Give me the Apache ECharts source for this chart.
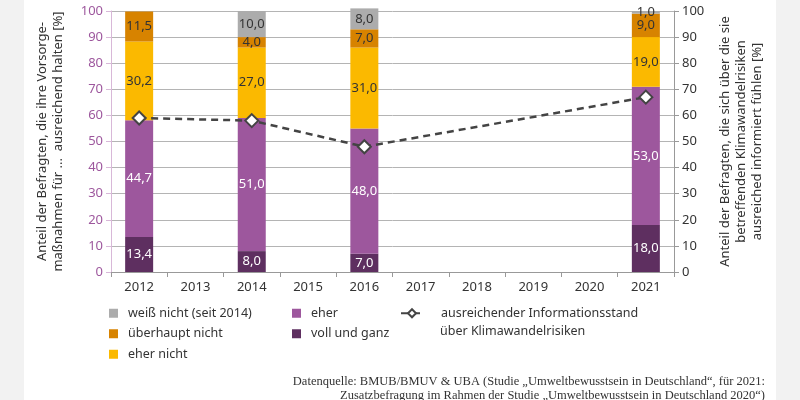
<!DOCTYPE html>
<html>
<head>
<meta charset="utf-8">
<script src="https://cdn.jsdelivr.net/npm/echarts@6/dist/echarts.min.js"></script>
<style>html,body{margin:0;padding:0;background:#fff}#c{width:800px;height:400px}</style>
</head>
<body>
<div id="c"></div>
<script>
const years = ['2012','2013','2014','2015','2016','2017','2018','2019','2020','2021'];
const vollUndGanz     = [13.4, null, 8.0, null, 7.0, null, null, null, null, 18.0];
const eher            = [44.7, null, 51.0, null, 48.0, null, null, null, null, 53.0];
const eherNicht       = [30.2, null, 27.0, null, 31.0, null, null, null, null, 19.0];
const ueberhauptNicht = [11.5, null, 4.0, null, 7.0, null, null, null, null, 9.0];
const weissNicht      = [null, null, 10.0, null, 8.0, null, null, null, null, 1.0];
const informiert      = [59, null, 58, null, 48, null, null, null, null, 67];
const yTicks = [0, 10, 20, 30, 40, 50, 60, 70, 80, 90, 100];

const FONT = 'Noto Sans';
const fmt = p => p.value == null ? '' : p.value.toFixed(1).replace('.', ',');

function barSeries(name, data, color, labelColor) {
  return {
    name, type: 'bar', stack: 'a', data, barWidth: 28, clip: false,
    itemStyle: { color },
    label: { show: true, position: 'inside', formatter: fmt, color: labelColor,
             fontFamily: FONT, fontSize: 13 },
    emphasis: { disabled: true }
  };
}

const chart = echarts.init(document.getElementById('c'), null, { renderer: 'canvas' });
const legendText = { fontFamily: FONT, fontSize: 12.5, color: '#333', lineHeight: 20.5, padding: [0, 0, 0, 5] };
chart.setOption({
  animation: false,
  backgroundColor: '#fff',
  textStyle: { fontFamily: FONT },
  grid: { left: 111, right: 126, top: 11, bottom: 128, containLabel: false },
  xAxis: {
    type: 'category', data: years,
    axisLine: { lineStyle: { color: '#999' } },
    axisTick: { show: true, alignWithLabel: false, length: 5, lineStyle: { color: '#999' } },
    axisLabel: { color: '#333', fontSize: 13, fontFamily: FONT, margin: 9 }
  },
  yAxis: [{
    type: 'value', min: yTicks[0], max: yTicks[yTicks.length - 1], interval: 10,
    name: 'Anteil der Befragten, die ihre Vorsorge-\nmaßnahmen für ...  ausreichend halten [%]',
    nameLocation: 'middle', nameRotate: 90, nameGap: 45,
    nameTextStyle: { color: '#333', fontSize: 13, fontFamily: FONT, lineHeight: 16 },
    axisLine: { show: true, lineStyle: { color: '#d8b8d8' } },
    axisTick: { show: true, length: 5, lineStyle: { color: '#d8b8d8' } },
    axisLabel: { color: '#9d579d', fontSize: 13, fontFamily: FONT, margin: 8 },
    splitLine: { show: true, lineStyle: { color: '#b4b4b4', width: 1 } }
  }, {
    type: 'value', min: yTicks[0], max: yTicks[yTicks.length - 1], interval: 10, position: 'right',
    name: 'Anteil der Befragten, die sich über die sie\nbetreffenden Klimawandelrisiken\nausreiched informiert fühlen [%]',
    nameLocation: 'middle', nameRotate: 90, nameGap: 43,
    nameTextStyle: { color: '#333', fontSize: 13, fontFamily: FONT, lineHeight: 16 },
    axisLine: { show: true, lineStyle: { color: '#999' } },
    axisTick: { show: true, length: 5, lineStyle: { color: '#999' } },
    axisLabel: { color: '#333', fontSize: 13, fontFamily: FONT, margin: 8 },
    splitLine: { show: false }
  }],
  legend: [{
    data: ['weiß nicht (seit 2014)', 'überhaupt nicht', 'eher nicht'],
    orient: 'vertical', left: 104, top: 298, itemWidth: 9, itemHeight: 9, itemGap: 0,
    icon: 'rect', textStyle: legendText, selectedMode: false
  }, {
    data: ['eher', 'voll und ganz'],
    orient: 'vertical', left: 287, top: 298, itemWidth: 9, itemHeight: 9, itemGap: 0,
    icon: 'rect', textStyle: legendText, selectedMode: false
  }, {
    data: ['ausreichender Informationsstand'],
    orient: 'vertical', left: 395, top: 298, itemWidth: 22, itemHeight: 10, itemGap: 0,
    textStyle: Object.assign({}, legendText, { padding: [0, 0, 0, 13] }), selectedMode: false
  }],
  graphic: [
    { type: 'rect', left: 0, top: 0, shape: { width: 24, height: 400 }, style: { fill: '#f2f2f2' }, silent: true },
    { type: 'rect', left: 776, top: 0, shape: { width: 24, height: 400 }, style: { fill: '#f2f2f2' }, silent: true },
    { type: 'text', left: 440, top: 325, style: { text: 'über Klimawandelrisiken', fill: '#333', font: '12.5px "Noto Sans"' } },
    { type: 'text', right: 35, top: 374, style: {
        text: 'Datenquelle: BMUB/BMUV & UBA (Studie „Umweltbewusstsein in Deutschland“, für 2021:\nZusatzbefragung im Rahmen der Studie „Umweltbewusstsein in Deutschland 2020“)',
        fill: '#333', font: '12.5px "Liberation Serif"', textAlign: 'right', lineHeight: 14.5 } }
  ],
  series: [
    barSeries('voll und ganz', vollUndGanz, '#5e2f60', '#fff'),
    barSeries('eher', eher, '#9d579d', '#fff'),
    barSeries('eher nicht', eherNicht, '#fbb900', '#333'),
    barSeries('überhaupt nicht', ueberhauptNicht, '#d78300', '#333'),
    barSeries('weiß nicht (seit 2014)', weissNicht, '#acacac', '#333'),
    {
      name: 'ausreichender Informationsstand', type: 'line', yAxisIndex: 1, data: informiert,
      connectNulls: true, symbol: 'diamond', symbolSize: 13, z: 10,
      lineStyle: { color: '#444', width: 2.5, type: [7, 5] },
      itemStyle: { color: '#fff', borderColor: '#444', borderWidth: 2 },
      emphasis: { disabled: true }
    }
  ]
});
</script>
</body>
</html>
